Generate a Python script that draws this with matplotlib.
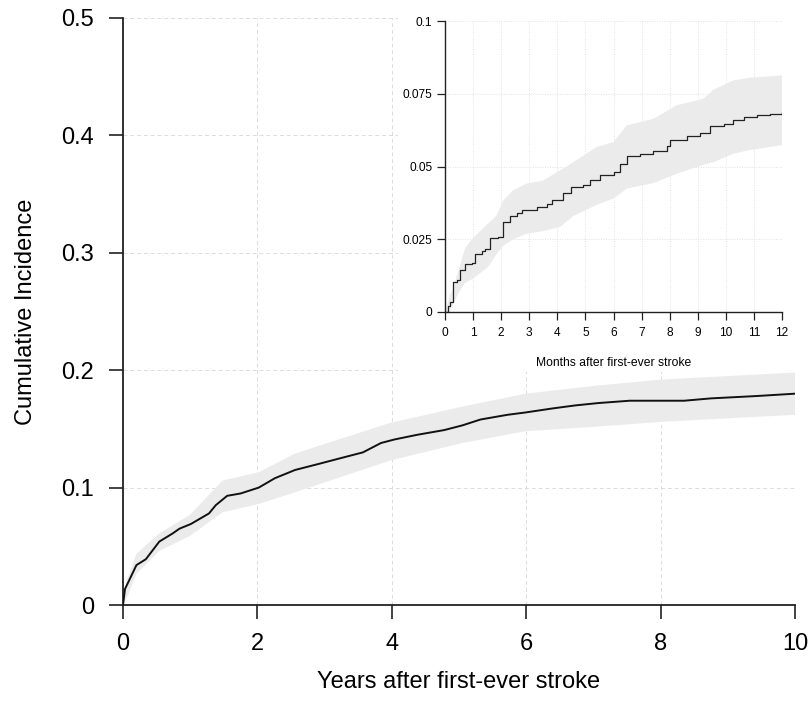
import matplotlib
matplotlib.use('Agg')
import matplotlib.pyplot as plt
from matplotlib.patches import Rectangle
import numpy as np

plt.rcParams['font.family'] = ['Liberation Sans', 'DejaVu Sans']

# ---- main curve (years) ----
years = [0, 0.03, 0.1, 0.2, 0.34, 0.54, 0.74, 0.84, 1.01, 1.28, 1.38, 1.55, 1.75,
         2.02, 2.26, 2.56, 2.9, 3.3, 3.57, 3.84, 4.04, 4.38, 4.78, 5.05, 5.32,
         5.72, 5.99, 6.4, 6.73, 7.07, 7.54, 8.35, 8.75, 9.43, 10]
cum_inc = [0, 0.0137, 0.022, 0.034, 0.039, 0.054, 0.061, 0.065, 0.069, 0.078,
           0.085, 0.093, 0.095, 0.100, 0.108, 0.115, 0.120, 0.126, 0.130, 0.138,
           0.141, 0.145, 0.149, 0.153, 0.158, 0.162, 0.164, 0.1675, 0.170, 0.172,
           0.174, 0.174, 0.176, 0.178, 0.180]
band_years = [0, 0.05, 0.2, 0.54, 1.0, 1.48, 2.02, 2.56, 3.97, 5.05, 5.99, 7.07, 8.01, 10]
band_upper = [0, 0.020, 0.0436, 0.061, 0.077, 0.106, 0.113, 0.129, 0.155, 0.169,
              0.180, 0.187, 0.192, 0.198]
band_lower = [0, 0.005, 0.0265, 0.046, 0.059, 0.079, 0.086, 0.096, 0.123, 0.138,
              0.148, 0.152, 0.156, 0.162]

# ---- inset curve (months) ----
months = [0, 0.12, 0.18, 0.27, 0.42, 0.53, 0.71, 0.95, 1.07, 1.31, 1.43, 1.6, 1.9,
          2.08, 2.32, 2.55, 2.73, 3.27, 3.62, 3.8, 4.2, 4.5, 4.93, 5.17, 5.52, 6.0,
          6.23, 6.47, 6.95, 7.42, 7.9, 8.02, 8.6, 9.08, 9.44, 9.92, 10.27, 10.63,
          11.1, 11.58, 12]
cum_inc_m = [0, 0.002, 0.0034, 0.0103, 0.011, 0.0145, 0.0166, 0.017, 0.0198, 0.021,
             0.0218, 0.0255, 0.0258, 0.031, 0.033, 0.034, 0.035, 0.036, 0.037,
             0.0386, 0.041, 0.043, 0.0435, 0.0455, 0.047, 0.048, 0.051, 0.0535,
             0.0544, 0.0553, 0.057, 0.059, 0.0604, 0.0615, 0.0638, 0.0645, 0.0659,
             0.067, 0.0676, 0.0682, 0.0687]
band_months = [0, 0.15, 0.3, 0.48, 0.71, 1.0, 1.54, 1.84, 2.08, 2.43, 2.9, 3.5, 4.1,
               4.57, 5.4, 6.0, 6.47, 7.42, 8.25, 9.2, 9.56, 10.27, 10.87, 12]
band_upper_m = [0, 0.005, 0.0086, 0.0143, 0.0218, 0.0255, 0.0304, 0.0332, 0.0384,
                0.0418, 0.0441, 0.0452, 0.0487, 0.0515, 0.0567, 0.0584, 0.0641,
                0.0664, 0.071, 0.0733, 0.0764, 0.0796, 0.0805, 0.0813]
band_lower_m = [0, 0, 0.003, 0.0065, 0.010, 0.0115, 0.0155, 0.020, 0.0228, 0.025,
                0.0269, 0.0278, 0.0292, 0.033, 0.0368, 0.039, 0.0424, 0.0443, 0.0475,
                0.0506, 0.0515, 0.0544, 0.0557, 0.0573]

main_xticks = [0, 2, 4, 6, 8, 10]
main_yticks = [0, 0.1, 0.2, 0.3, 0.4, 0.5]
main_yticklabels = ['0', '0.1', '0.2', '0.3', '0.4', '0.5']
inset_xticks = list(range(0, 13))
inset_yticks = [0, 0.025, 0.05, 0.075, 0.1]
inset_yticklabels = ['0', '0.025', '0.05', '0.075', '0.1']

W, H = 810, 721
fig = plt.figure(figsize=(W / 100, H / 100), dpi=100)

def frac(l, r, t, b):
    return [l / W, 1 - b / H, (r - l) / W, (b - t) / H]

band_color = '#ebebeb'

# ---- main axes ----
ax = fig.add_axes(frac(123, 795, 18, 605))
ax.fill(np.concatenate([band_years, band_years[::-1]]),
        np.concatenate([band_upper, band_lower[::-1]]),
        color=band_color, lw=0, zorder=1)
ax.plot(years, cum_inc, color='#111111', lw=1.4, zorder=3)
ax.set_xlim(0, 10)
ax.set_ylim(0, 0.5)
ax.set_xticks(main_xticks)
ax.set_yticks(main_yticks)
ax.set_yticklabels(main_yticklabels)
ax.grid(True, color='#dcdcdc', ls=(0, (4, 3)), lw=0.7, zorder=0)
ax.set_axisbelow(True)
for s in ['top', 'right']:
    ax.spines[s].set_visible(False)
for s in ['left', 'bottom']:
    ax.spines[s].set_linewidth(1.3)
    ax.spines[s].set_color('#222222')
ax.tick_params(axis='both', direction='out', length=10, width=1.2, colors='#222222',
               labelsize=17, labelcolor='black')
ax.tick_params(axis='y', pad=11)
ax.tick_params(axis='x', pad=10)
ax.set_xlabel('Years after first-ever stroke', fontsize=17, labelpad=12)
ax.set_ylabel('Cumulative Incidence', fontsize=17, labelpad=17)

# white background for inset region
fig.patches.append(Rectangle((398 / W, 1 - 372 / H), (W - 398) / W, 372 / H,
                             transform=fig.transFigure, facecolor='white',
                             edgecolor='none', zorder=1))

# ---- inset axes ----
ax2 = fig.add_axes(frac(445, 782, 21, 312), zorder=2)
ax2.patch.set_alpha(0)
ax2.fill(np.concatenate([band_months, band_months[::-1]]),
         np.concatenate([band_upper_m, band_lower_m[::-1]]),
         color=band_color, lw=0, zorder=1)
ax2.step(months, cum_inc_m, where='post', color='#222222', lw=0.9, zorder=3)
ax2.set_xlim(0, 12)
ax2.set_ylim(0, 0.1)
ax2.set_xticks(inset_xticks)
ax2.set_yticks(inset_yticks)
ax2.set_yticklabels(inset_yticklabels)
ax2.grid(True, color='#e2e2e2', ls=(0, (1, 1.5)), lw=0.7, zorder=0)
ax2.set_axisbelow(True)
for s in ['top', 'right']:
    ax2.spines[s].set_visible(False)
for s in ['left', 'bottom']:
    ax2.spines[s].set_linewidth(1.0)
    ax2.spines[s].set_color('#222222')
ax2.tick_params(axis='both', direction='out', length=6, width=0.9, colors='#222222',
                labelsize=8.6, labelcolor='black')
ax2.tick_params(axis='y', pad=3)
ax2.tick_params(axis='x', pad=5)
ax2.set_xlabel('Months after first-ever stroke', fontsize=8.7, labelpad=13)

fig.savefig('out.png', dpi=100)
